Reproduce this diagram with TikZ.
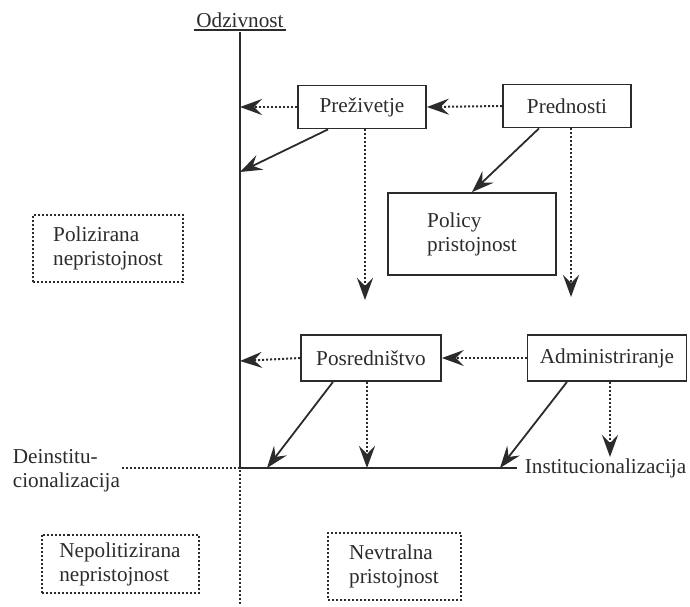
\documentclass[tikz,border=0pt]{standalone}
\usepackage{fontspec}
\setmainfont{Liberation Serif}
\usetikzlibrary{arrows.meta}
\usetikzlibrary{calc}
\usetikzlibrary{positioning}
\definecolor{ink}{HTML}{2B2B2B}
\tikzset{arr/.style = {-{Stealth[length=11pt, width=8pt, inset=4pt]}}}
\tikzset{sbox/.style = {draw, ink, text=ink, line width=0.9pt, inner sep=2pt}}
\tikzset{dbox/.style = {draw, ink, text=ink, densely dotted, line width=1pt, align=left}}
\tikzset{dots/.style = {densely dotted, line width=1pt}}
\tikzset{lbl/.style = {text=ink, inner sep=1pt}}

\begin{document}
\begin{tikzpicture}[x=0.5pt, y=-0.5pt, font=\fontsize{10.6}{12}\selectfont,
                    line width=0.9pt, draw=ink]
    \useasboundingbox (0,0) rectangle (690,606);

    % axes
    \node [lbl] (odz) at (240,20) {Odzivnost};
    \draw [ink] (odz.south west) -- (odz.south east);
    \coordinate (top) at (240,32);
    \coordinate (origin) at (240,468);
    \coordinate (bot) at (240,606);
    \coordinate (left) at (122,468);
    \coordinate (right) at (517,468);
    \draw [ink] (top) -- (origin) -- (right);
    \draw [ink, dots] (left) -- (origin) -- (bot);

    \node [lbl, anchor=west] (inst) at (522,468) {Institucionalizacija};
    \node [lbl, anchor=west, align=left] (deinst) at (10,471)
          {Deinstitu-\\cionalizacija};

    % boxes
    \node [sbox, minimum width=64pt, minimum height=21.5pt] (prez) at (362,107) {Preživetje};
    \node [sbox, minimum width=64pt, minimum height=21.5pt] (pred) at (567,106) {Prednosti};
    \node [sbox, minimum width=84pt, minimum height=41pt, align=left] (policy) at (472,234)
          {Policy\\pristojnost};
    \node [sbox, minimum width=70pt, minimum height=23pt] (posr) at (371,358) {Posredništvo};
    \node [sbox, minimum width=79.5pt, minimum height=23pt] (admin) at (607,358) {Administriranje};

    \node [dbox, minimum width=75pt, minimum height=33.5pt] (pol) at (108,248)
          {Polizirana\\nepristojnost};
    \node [dbox, minimum width=78.5pt, minimum height=29pt] (nepol) at (120,564)
          {Nepolitizirana\\nepristojnost};
    \node [dbox, minimum width=66.5pt, minimum height=33.5pt] (nevt) at (394,566)
          {Nevtralna\\pristojnost};

    % arrow ends
    \coordinate (e1) at (240,107);
    \coordinate (e2) at (240,172);
    \coordinate (e3) at (365,300);
    \coordinate (e4) at (571,297);
    \coordinate (e5) at (240,361);
    \coordinate (e6) at (267,468);
    \coordinate (e7) at (367,468);
    \coordinate (e8) at (500,468);
    \coordinate (e9) at (610,457);

    % upper row
    \draw [arr, dots] (prez.west) -- (e1);
    \draw [arr, dots] (pred.west) -- (prez.east);
    \draw [arr] ($(prez.south)+(-34,0)$) -- (e2);
    \draw [arr, dots] ($(prez.south)+(3,0)$) -- (e3);
    \draw [arr] ($(pred.south)+(-28,0)$) -- (policy.north);
    \draw [arr, dots] ($(pred.south)+(4,0)$) -- (e4);

    % lower row
    \draw [arr, dots] (posr.west) -- (e5);
    \draw [arr, dots] (admin.west) -- (posr.east);
    \draw [arr] ($(posr.south)+(-38,0)$) -- (e6);
    \draw [arr, dots] ($(posr.south)+(-4,0)$) -- (e7);
    \draw [arr] ($(admin.south)+(-40,0)$) -- (e8);
    \draw [arr, dots] ($(admin.south)+(3,0)$) -- (e9);
\end{tikzpicture}
\end{document}
